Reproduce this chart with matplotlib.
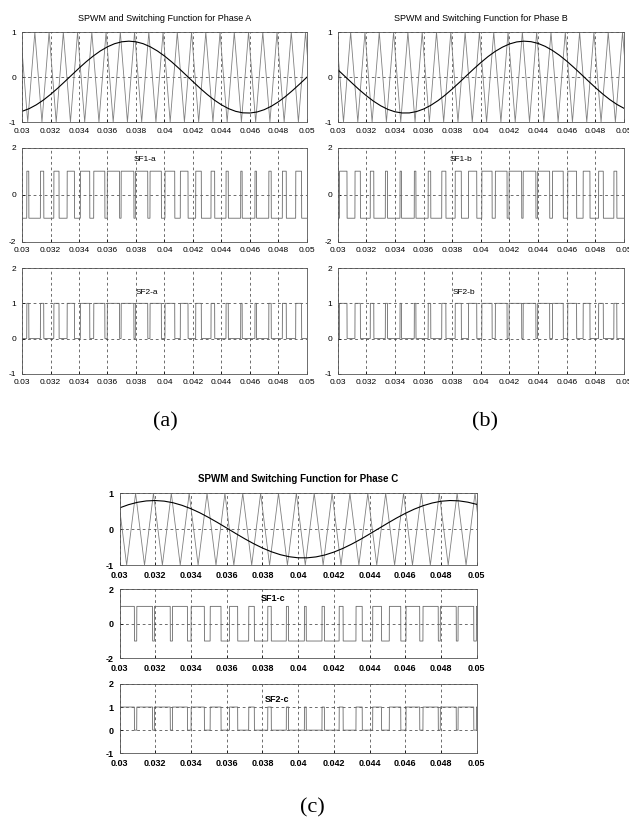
import numpy as np
import matplotlib.pyplot as plt

plt.rcParams['font.family'] = ['Liberation Sans', 'DejaVu Sans']

# sample times of the sine references (s)
t_ref = [0.0300, 0.0305, 0.0310, 0.0315, 0.0320, 0.0325, 0.0330, 0.0335, 0.0340, 0.0345,
         0.0350, 0.0355, 0.0360, 0.0365, 0.0370, 0.0375, 0.0380, 0.0385, 0.0390, 0.0395,
         0.0400, 0.0405, 0.0410, 0.0415, 0.0420, 0.0425, 0.0430, 0.0435, 0.0440, 0.0445,
         0.0450, 0.0455, 0.0460, 0.0465, 0.0470, 0.0475, 0.0480, 0.0485, 0.0490, 0.0495,
         0.0500]

# sine references
ref_a = [-0.761, -0.701, -0.616, -0.510, -0.385, -0.247, -0.100, 0.050, 0.199, 0.341,
         0.470, 0.583, 0.675, 0.744, 0.786, 0.800, 0.786, 0.744, 0.675, 0.583,
         0.470, 0.341, 0.199, 0.050, -0.100, -0.247, -0.385, -0.510, -0.616, -0.701,
         -0.761, -0.794, -0.798, -0.775, -0.724, -0.647, -0.548, -0.429, -0.294, -0.150,
         0.000]
ref_b = [0.166, 0.017, -0.133, -0.279, -0.414, -0.535, -0.637, -0.717, -0.771, -0.797,
         -0.796, -0.766, -0.709, -0.627, -0.523, -0.400, -0.263, -0.117, 0.034, 0.183,
         0.325, 0.457, 0.572, 0.666, 0.738, 0.783, 0.800, 0.789, 0.750, 0.684,
         0.594, 0.484, 0.356, 0.215, 0.067, -0.084, -0.231, -0.371, -0.497, -0.606,
         -0.693]
ref_c = [0.594, 0.684, 0.750, 0.789, 0.800, 0.783, 0.738, 0.666, 0.572, 0.457,
         0.325, 0.183, 0.034, -0.117, -0.263, -0.400, -0.523, -0.627, -0.709, -0.766,
         -0.796, -0.797, -0.771, -0.717, -0.637, -0.535, -0.414, -0.279, -0.133, 0.017,
         0.166, 0.310, 0.443, 0.560, 0.657, 0.731, 0.780, 0.800, 0.791, 0.754,
         0.693]

# triangular carrier vertices
carrier_peak_t = [0.0299, 0.0309, 0.0319, 0.0329, 0.0339, 0.0349, 0.0359, 0.0369, 0.0379, 0.0389,
                  0.0399, 0.0409, 0.0419, 0.0429, 0.0439, 0.0449, 0.0459, 0.0469, 0.0479, 0.0489,
                  0.0499]
carrier_trough_t = [0.0304, 0.0314, 0.0324, 0.0334, 0.0344, 0.0354, 0.0364, 0.0374, 0.0384, 0.0394,
                    0.0404, 0.0414, 0.0424, 0.0434, 0.0444, 0.0454, 0.0464, 0.0474, 0.0484, 0.0494,
                    0.0504]

xticks = [0.03, 0.032, 0.034, 0.036, 0.038, 0.04, 0.042, 0.044, 0.046, 0.048, 0.05]
xtick_labels = ['0.03', '0.032', '0.034', '0.036', '0.038', '0.04', '0.042', '0.044', '0.046', '0.048', '0.05']

carrier_t = np.array(carrier_peak_t + carrier_trough_t)
carrier_v = np.array([1.0] * len(carrier_peak_t) + [-1.0] * len(carrier_trough_t))
order = np.argsort(carrier_t)
carrier_t, carrier_v = carrier_t[order], carrier_v[order]

tt = np.linspace(0.0299, 0.0504, 8201)
carrier_fine = np.interp(tt, carrier_t, carrier_v)

TRI_COLOR = '#808080'
SF_COLOR = '#6a6a6a'
GRID_COLOR = '#333333'


def style_axes(ax, ylim, yticks, fs, weight):
    ax.set_xlim(0.03, 0.05)
    ax.set_ylim(*ylim)
    ax.set_xticks(xticks)
    ax.set_xticklabels(xtick_labels, fontsize=fs, fontweight=weight)
    ax.set_yticks(yticks)
    ax.set_yticklabels([str(v) for v in yticks], fontsize=fs, fontweight=weight)
    ax.tick_params(direction='in', length=2, width=0.5)
    ax.tick_params(axis='x', pad=4)
    ax.tick_params(axis='y', pad=4)
    ax.grid(True, linestyle=(0, (4, 4)), linewidth=0.5, color=GRID_COLOR)
    for s in ax.spines.values():
        s.set_linewidth(0.6)
        s.set_color('#555555')


def draw_phase(fig, left, width, rows, ref, phase, title_fs, fs, weight, title_weight):
    ref_fine = np.interp(tt, t_ref, ref)
    sf1 = np.where(ref_fine > carrier_fine, 1.0, -1.0)
    sf2 = (sf1 + 1.0) / 2.0

    ax1 = fig.add_axes([left, rows[0][0], width, rows[0][1]])
    ax1.plot(carrier_t, carrier_v, color=TRI_COLOR, linewidth=0.6)
    ax1.plot(t_ref, ref, color='black', linewidth=0.8)
    style_axes(ax1, (-1, 1), [-1, 0, 1], fs, weight)
    ax1.set_title('SPWM and Switching Function for Phase ' + phase.upper(),
                  fontsize=title_fs, fontweight=title_weight, pad=8)

    ax2 = fig.add_axes([left, rows[1][0], width, rows[1][1]])
    ax2.plot(tt, sf1, color=SF_COLOR, linewidth=0.6)
    style_axes(ax2, (-2, 2), [-2, 0, 2], fs, weight)
    ax2.text(0.43, 0.87, 'SF1-' + phase, transform=ax2.transAxes, ha='center', va='center',
             fontsize=fs, fontweight=weight)

    ax3 = fig.add_axes([left, rows[2][0], width, rows[2][1]])
    ax3.plot(tt, sf2, color=SF_COLOR, linewidth=0.6)
    style_axes(ax3, (-1, 2), [-1, 0, 1, 2], fs, weight)
    ax3.text(0.44, 0.77, 'SF2-' + phase, transform=ax3.transAxes, ha='center', va='center',
             fontsize=fs, fontweight=weight)


fig = plt.figure(figsize=(6.29, 8.25), dpi=100)

rows_top = [(0.852, 0.109), (0.707, 0.114), (0.547, 0.128)]
rows_c = [(0.315, 0.087), (0.202, 0.084), (0.087, 0.084)]

draw_phase(fig, 0.035, 0.453, rows_top, ref_a, 'a', 6.5, 6, 'normal', 'normal')
draw_phase(fig, 0.537, 0.455, rows_top, ref_b, 'b', 6.5, 6, 'normal', 'normal')
draw_phase(fig, 0.190, 0.568, rows_c, ref_c, 'c', 7, 6.5, 'bold', 'bold')

fig.text(165 / 629, 1 - 422 / 825, '(a)', fontsize=16, family='Liberation Serif', ha='center', va='center')
fig.text(485 / 629, 1 - 422 / 825, '(b)', fontsize=16, family='Liberation Serif', ha='center', va='center')
fig.text(312 / 629, 1 - 808 / 825, '(c)', fontsize=16, family='Liberation Serif', ha='center', va='center')

fig.savefig('out.png', dpi=100)
